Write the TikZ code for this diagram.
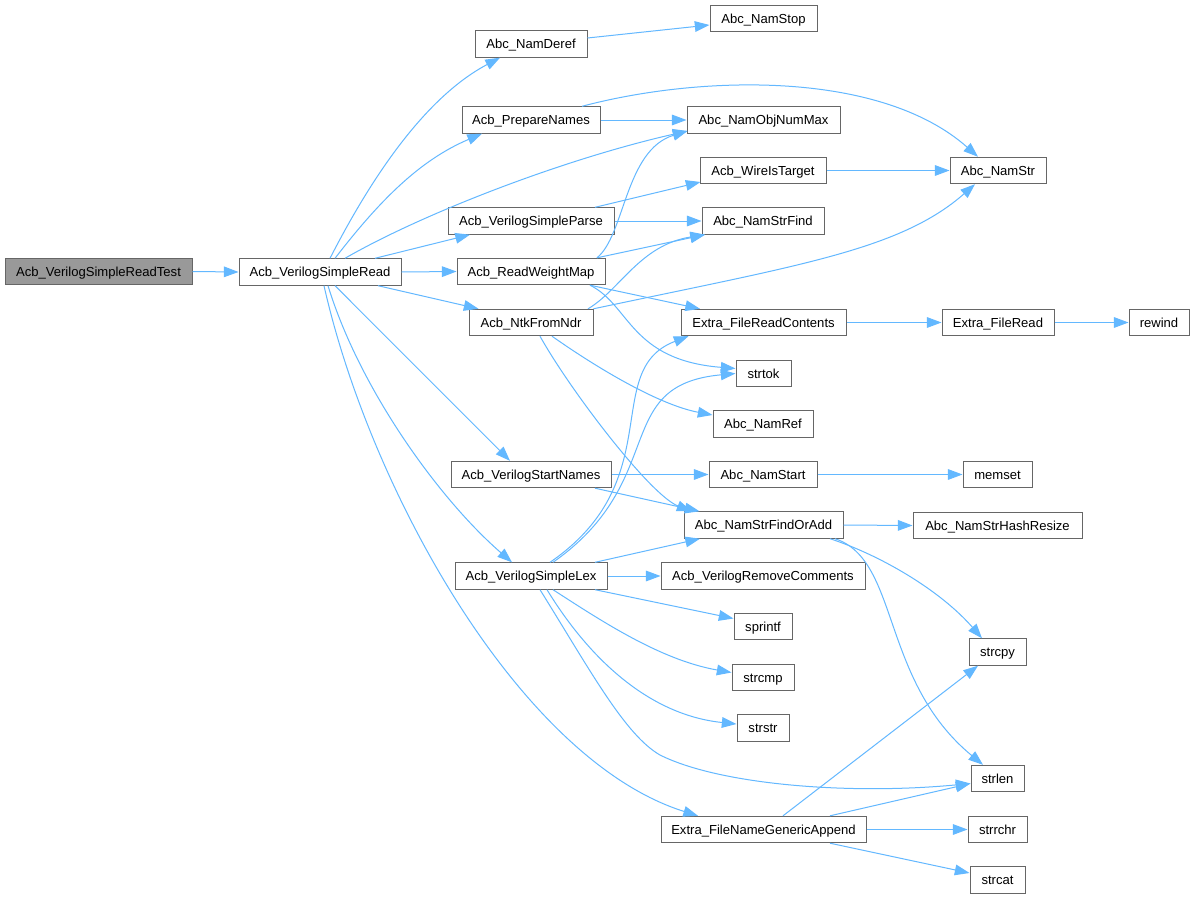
\documentclass[tikz,border=0pt]{standalone}
\usepackage{fontspec}
\setmainfont{Liberation Sans}
\usetikzlibrary{arrows.meta,calc}
\definecolor{edgeblue}{HTML}{63B8FF}
\definecolor{nodeborder}{HTML}{666666}
\definecolor{rootfill}{HTML}{999999}
\begin{document}
\begin{tikzpicture}[x=0.75pt,y=-0.75pt,
  fn/.style={draw=nodeborder,line width=0.75pt,fill=white,minimum height=19.8pt,inner sep=0pt,text height=7pt,text depth=0pt,font=\fontsize{9.8pt}{11pt}\selectfont,text=black},
  root/.style={fn,fill=rootfill},
  call/.style={draw=edgeblue,line width=0.75pt,-{Triangle[length=11pt,width=8pt]}}]
\useasboundingbox[fill=white] (0,0) rectangle (1195,899);
% nodes
\node[root,minimum width=140.25pt] (test) at (98.5,271.5) {Acb\_VerilogSimpleReadTest};
\node[fn,minimum width=121.5pt] (read) at (320,272) {Acb\_VerilogSimpleRead};
\node[fn,minimum width=84pt] (deref) at (531,44) {Abc\_NamDeref};
\node[fn,minimum width=80.25pt] (stop) at (763.5,18.5) {Abc\_NamStop};
\node[fn,minimum width=103.5pt] (prep) at (531,120) {Acb\_PrepareNames};
\node[fn,minimum width=114.75pt] (objmax) at (763.5,120) {Abc\_NamObjNumMax};
\node[fn,minimum width=94.5pt] (wire) at (763,170.5) {Acb\_WireIsTarget};
\node[fn,minimum width=124.5pt] (parse) at (531,221) {Acb\_VerilogSimpleParse};
\node[fn,minimum width=91.5pt] (strfind) at (763,221) {Abc\_NamStrFind};
\node[fn,minimum width=72pt] (namstr) at (998,170.5) {Abc\_NamStr};
\node[fn,minimum width=111pt] (rwm) at (531,271.5) {Acb\_ReadWeightMap};
\node[fn,minimum width=93pt] (ntk) at (531,322.5) {Acb\_NtkFromNdr};
\node[fn,minimum width=123.75pt] (frc) at (763.5,322.5) {Extra\_FileReadContents};
\node[fn,minimum width=41.25pt] (strtok) at (763.5,373.5) {strtok};
\node[fn,minimum width=75pt] (namref) at (763,424) {Abc\_NamRef};
\node[fn,minimum width=120pt] (vsn) at (531,474.5) {Acb\_VerilogStartNames};
\node[fn,minimum width=81pt] (namstart) at (763,474.5) {Abc\_NamStart};
\node[fn,minimum width=84pt] (fileread) at (998,322.5) {Extra\_FileRead};
\node[fn,minimum width=45pt] (rewind) at (1159,322.5) {rewind};
\node[fn,minimum width=51.75pt] (memset) at (997.5,474.5) {memset};
\node[fn,minimum width=126.75pt] (hash) at (997.5,525.5) {Abc\_NamStrHashResize};
\node[fn,minimum width=119.25pt] (sfoa) at (763.5,525) {Abc\_NamStrFindOrAdd};
\node[fn,minimum width=114pt] (lex) at (531,576) {Acb\_VerilogSimpleLex};
\node[fn,minimum width=153pt] (remc) at (763,576) {Acb\_VerilogRemoveComments};
\node[fn,minimum width=43.5pt] (sprintf) at (763,626.5) {sprintf};
\node[fn,minimum width=46.5pt] (strcmp) at (763,677.5) {strcmp};
\node[fn,minimum width=39pt] (strstr) at (763,728) {strstr};
\node[fn,minimum width=153.75pt] (fnga) at (763.5,829.5) {Extra\_FileNameGenericAppend};
\node[fn,minimum width=42.75pt] (strcpy) at (997.5,652) {strcpy};
\node[fn,minimum width=39.75pt] (strlen) at (997.5,778.5) {strlen};
\node[fn,minimum width=44.25pt] (strrchr) at (997.5,829.5) {strrchr};
\node[fn,minimum width=41.25pt] (strcat) at (997.5,880) {strcat};
% edges
\draw[call] (test.east) -- (read.west);
\draw[call] ($(read.north)+(10,0)$) .. controls (365,190) and (420,100) .. ($(deref.south)+(-31,0)$);
\draw[call] ($(read.north)+(15,0)$) .. controls (380,200) and (420,160) .. ($(prep.south)+(-49,0)$);
\draw[call] ($(read.north)+(25,0)$) .. controls (420,215) and (560,160) .. ($(objmax.west)+(1,11)$);
\draw[call] ($(read.north)+(55,0)$) -- ($(parse.south)+(-61,0)$);
\draw[call] (read.east) -- (rwm.west);
\draw[call] ($(read.south)+(58,0)$) -- ($(ntk.north west)+(10,0)$);
\draw[call] ($(read.south)+(15,0)$) -- ($(vsn.north)+(-21,0)$);
\draw[call] ($(read.south)+(8,0)$) .. controls (360,390) and (440,500) .. ($(lex.north)+(-19,0)$);
\draw[call] ($(read.south)+(4,0)$) .. controls (370,490) and (520,760) .. ($(fnga.north)+(-65.5,0)$);
\draw[call] ($(deref.east)+(0,-6)$) -- ($(stop.west)+(0,6.5)$);
\draw[call] (prep.east) -- (objmax.west);
\draw[call] ($(prep.north)+(51,0)$) .. controls (700,75) and (880,70) .. ($(namstr.north)+(-20,0)$);
\draw[call] ($(parse.north)+(64,0)$) -- ($(wire.west)+(1,11.5)$);
\draw[call] (parse.east) -- (strfind.west);
\draw[call] (wire.east) -- (namstr.west);
\draw[call] ($(rwm.north)+(66,0)$) .. controls (625,235) and (625,150) .. ($(objmax.west)+(1,11)$);
\draw[call] ($(rwm.north)+(66,0)$) -- ($(strfind.south)+(-58,0)$);
\draw[call] ($(rwm.south)+(59,0)$) -- ($(frc.north)+(-63.5,0)$);
\draw[call] ($(rwm.south)+(59,0)$) .. controls (630,305) and (630,360) .. ($(strtok.west)+(0,-5)$);
\draw[call] ($(ntk.north)+(57,0)$) .. controls (620,290) and (640,245) .. ($(strfind.south)+(-58,0)$);
\draw[call] (ntk.north east) .. controls (800,265) and (900,250) .. ($(namstr.south)+(-23,0)$);
\draw[call] ($(ntk.south)+(21,0)$) .. controls (600,370) and (660,405) .. ($(namref.west)+(0,-9)$);
\draw[call] ($(ntk.south)+(9,0)$) .. controls (570,390) and (650,495) .. ($(sfoa.north)+(-72,0)$);
\draw[call] (frc.east) -- (fileread.west);
\draw[call] (fileread.east) -- (rewind.west);
\draw[call] (vsn.east) -- (namstart.west);
\draw[call] ($(vsn.south)+(64,0)$) -- ($(sfoa.north)+(-64,0)$);
\draw[call] (namstart.east) -- (memset.west);
\draw[call] (sfoa.east) -- (hash.west);
\draw[call] ($(sfoa.south)+(66.5,0)$) .. controls (880,555) and (940,590) .. ($(strcpy.north)+(-15.5,0)$);
\draw[call] ($(sfoa.south)+(71.5,0)$) .. controls (900,560) and (880,680) .. ($(strlen.north)+(-14.5,0)$);
\draw[call] ($(lex.north)+(19,0)$) .. controls (670,480) and (600,370) .. ($(frc.south west)+(8,0)$);
\draw[call] ($(lex.north)+(22,0)$) .. controls (670,480) and (610,385) .. (strtok.west);
\draw[call] ($(lex.north)+(64,0)$) -- ($(sfoa.south)+(-63.5,0)$);
\draw[call] (lex.east) -- (remc.west);
\draw[call] ($(lex.south)+(64,0)$) -- ($(sprintf.west)+(0,-8)$);
\draw[call] ($(lex.south)+(22,0)$) .. controls (600,620) and (660,660) .. ($(strcmp.west)+(0,-5)$);
\draw[call] ($(lex.south)+(16,0)$) .. controls (590,660) and (650,715) .. ($(strstr.west)+(0,-4)$);
\draw[call] ($(lex.south)+(9,0)$) .. controls (590,670) and (625,735) .. (660,755) .. controls (720,785) and (850,795) .. ($(strlen.west)+(0,5)$);
\draw[call] ($(fnga.north)+(19.5,0)$) -- ($(strcpy.south)+(-19.5,0)$);
\draw[call] ($(fnga.north)+(66.5,0)$) -- ($(strlen.west)+(0,5)$);
\draw[call] (fnga.east) -- (strrchr.west);
\draw[call] ($(fnga.south)+(66.5,0)$) -- ($(strcat.west)+(0,-7)$);
\end{tikzpicture}
\end{document}
